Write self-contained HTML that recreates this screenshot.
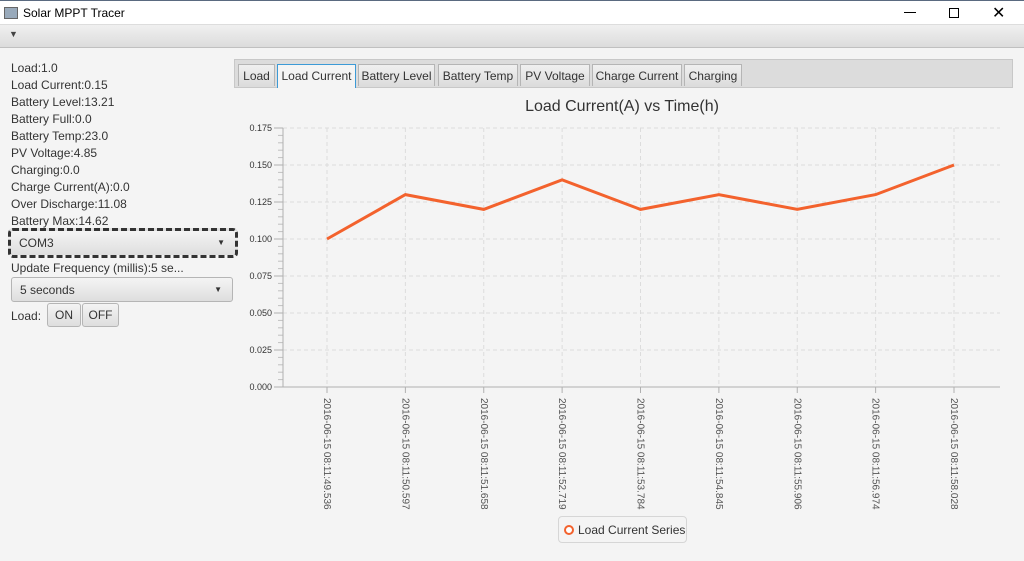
<!DOCTYPE html>
<html><head><meta charset="utf-8"><style>
body{margin:0;width:1024px;height:561px;overflow:hidden;background:#f4f4f4;font-family:"Liberation Sans",sans-serif;position:relative}
.abs{position:absolute}
.lbl{position:absolute;left:11px;font-size:12px;color:#333}
.tab{position:absolute;top:64px;height:22px;border:1px solid #b5b5b5;background:linear-gradient(#f0f0f0,#dcdcdc);font-size:12px;color:#333;line-height:22px;text-align:center;box-sizing:border-box;border-bottom:none;white-space:nowrap;overflow:hidden}
.btn{position:absolute;border:1px solid #b5b5b5;border-radius:3px;background:linear-gradient(#f4f4f4,#dedede);font-size:12px;color:#333;text-align:center;box-sizing:border-box}
</style></head><body>
<div class="abs" style="left:0;top:0;width:1024px;height:24px;background:#fff;border-top:1px solid #5a6a80;box-sizing:border-box">
 <div class="abs" style="left:4px;top:6px;width:12px;height:10px;border:1px solid #666;background:#9ab"></div>
 <div class="abs" style="left:23px;top:5px;font-size:12px;color:#000">Solar MPPT Tracer</div>
 <div class="abs" style="left:904px;top:11px;width:12px;height:1px;background:#000"></div>
 <div class="abs" style="left:949px;top:7px;width:8px;height:8px;border:1px solid #000"></div>
 <div class="abs" style="left:992px;top:2px;font-size:16px;color:#000">✕</div>
</div>
<div class="abs" style="left:0;top:24px;width:1024px;height:24px;background:linear-gradient(#f0f0f0,#dcdcdc);border-bottom:1px solid #c0c0c0;border-top:1px solid #ddd;box-sizing:border-box">
 <div class="abs" style="left:9px;top:4px;font-size:9px;color:#444">▼</div>
</div>
<div class="lbl" style="top:61px">Load:1.0</div>
<div class="lbl" style="top:78px">Load Current:0.15</div>
<div class="lbl" style="top:95px">Battery Level:13.21</div>
<div class="lbl" style="top:112px">Battery Full:0.0</div>
<div class="lbl" style="top:129px">Battery Temp:23.0</div>
<div class="lbl" style="top:146px">PV Voltage:4.85</div>
<div class="lbl" style="top:163px">Charging:0.0</div>
<div class="lbl" style="top:180px">Charge Current(A):0.0</div>
<div class="lbl" style="top:197px">Over Discharge:11.08</div>
<div class="lbl" style="top:214px">Battery Max:14.62</div>
<div class="btn" style="left:8px;top:228px;width:230px;height:30px;border:3px dashed #333;border-radius:5px;padding:5px 0 0 8px;text-align:left">COM3<span style="position:absolute;right:10px;top:7px;font-size:8px">▼</span></div>
<div class="lbl" style="top:261px">Update Frequency (millis):5 se...</div>
<div class="btn" style="left:11px;top:277px;width:222px;height:25px;padding:5px 0 0 8px;text-align:left">5 seconds<span style="position:absolute;right:10px;top:7px;font-size:8px">▼</span></div>
<div class="lbl" style="top:309px">Load:</div>
<div class="btn" style="left:47px;top:303px;width:34px;height:24px;line-height:22px">ON</div>
<div class="btn" style="left:82px;top:303px;width:37px;height:24px;line-height:22px">OFF</div>
<div class="abs" style="left:234px;top:59px;width:779px;height:29px;background:#dcdcdc;border:1px solid #c8c8c8;box-sizing:border-box"></div>
<div class="tab" style="left:238px;width:37px">Load</div>
<div class="tab" style="left:277px;width:79px;background:#f4f4f4;border-color:#3c9ad6;height:24px">Load Current</div>
<div class="tab" style="left:358px;width:77px">Battery Level</div>
<div class="tab" style="left:438px;width:80px">Battery Temp</div>
<div class="tab" style="left:520px;width:70px">PV Voltage</div>
<div class="tab" style="left:592px;width:90px">Charge Current</div>
<div class="tab" style="left:684px;width:58px">Charging</div>
<svg class="abs" style="left:0;top:0" width="1024" height="561" id="chart">
<text x="622" y="111" font-size="16" fill="#333" text-anchor="middle">Load Current(A) vs Time(h)</text>
</svg>
<div class="abs" style="left:558px;top:516px;width:129px;height:27px;border:1px solid #d6d6d6;border-radius:4px;box-sizing:border-box">
 <div class="abs" style="left:5px;top:8px;width:6px;height:6px;border:2px solid #f3622d;border-radius:50%;background:#fff"></div>
 <div class="abs" style="left:19px;top:6px;font-size:12px;color:#333">Load Current Series</div>
</div>
<script>
const categories=["2016-06-15 08:11:49.536","2016-06-15 08:11:50.597","2016-06-15 08:11:51.658","2016-06-15 08:11:52.719","2016-06-15 08:11:53.784","2016-06-15 08:11:54.845","2016-06-15 08:11:55.906","2016-06-15 08:11:56.974","2016-06-15 08:11:58.028"];
const values=[0.10,0.13,0.12,0.14,0.12,0.13,0.12,0.13,0.15];
const yTicks=[0,0.025,0.05,0.075,0.1,0.125,0.15,0.175];
const NS="http://www.w3.org/2000/svg";
const svg=document.getElementById('chart');
const L=283,R=1000,T=128,B=387,yMax=0.175,X0=327,X1=954;
function xs(i){return X0+(X1-X0)*i/(categories.length-1);}
function ys(v){return B-(v/yMax)*(B-T);}
function mk(t,a,p){const e=document.createElementNS(NS,t);for(const k in a)e.setAttribute(k,a[k]);(p||svg).appendChild(e);return e;}
yTicks.forEach(v=>{
 const y=ys(v);
 if(v>0){const g=mk('line',{x1:L,x2:R,y1:y,y2:y,stroke:'#dcdcdc','stroke-dasharray':'4,3'});
 
 }
 const t=mk('line',{x1:L-9,x2:L,y1:y,y2:y,stroke:'#b0b0b0'});
 
 
 const tx=mk('text',{x:L-11,y:y+3,'font-size':9,fill:'#333','text-anchor':'end'});
 tx.textContent=v.toFixed(3);
 
 
 if(v<yMax){for(let m=1;m<5;m++){const yy=ys(v+m*0.005);mk('line',{x1:L-5,x2:L,y1:yy,y2:yy,stroke:'#c0c0c0'});}}
});
categories.forEach((c,i)=>{
 const x=xs(i);
 const g=mk('line',{x1:x,x2:x,y1:T,y2:B,stroke:'#dcdcdc','stroke-dasharray':'4,3'});
 
 
 mk('line',{x1:x,x2:x,y1:B,y2:B+6,stroke:'#b0b0b0'});
 const t=mk('text',{x:0,y:0,'font-size':10,fill:'#555',transform:`translate(${x-3},${B+11}) rotate(90)`});
 t.textContent=c;
 
 
});
const ax=mk('line',{x1:L,x2:L,y1:T,y2:B,stroke:'#b0b0b0'});


const bx=mk('line',{x1:L,x2:R,y1:B,y2:B,stroke:'#b0b0b0'});


const pl=mk('polyline',{points:values.map((v,i)=>xs(i)+','+ys(v)).join(' '),fill:'none',stroke:'#f3622d','stroke-width':3,'stroke-linejoin':'miter'});


</script>
</body></html>
